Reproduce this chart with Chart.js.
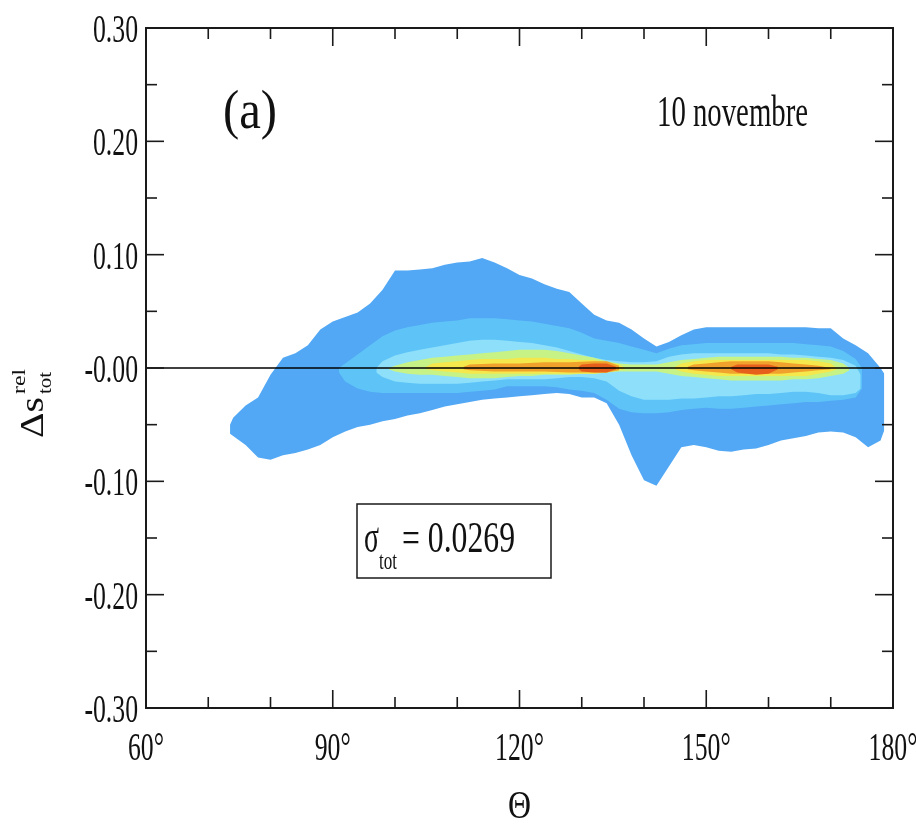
<!DOCTYPE html>
<html>
<head>
<meta charset="utf-8">
<script src="https://cdn.jsdelivr.net/npm/chart.js@4.4.1/dist/chart.umd.min.js"></script>
<style>
  html, body { margin: 0; padding: 0; background: #fff; }
  #wrap { width: 916px; height: 824px; }
</style>
</head>
<body>
<div id="wrap"><canvas id="chart" width="916" height="824"></canvas></div>
<script>
// ─── axes ───
const xMajorTicks = [60, 90, 120, 150, 180];
const xMinorTicks = [70, 80, 100, 110, 130, 140, 160, 170];
const xTickLabels = ["60°", "90°", "120°", "150°", "180°"];
const yMajorTicks = [0.30, 0.20, 0.10, 0.00, -0.10, -0.20, -0.30];
const yMinorTicks = [0.25, 0.15, 0.05, -0.05, -0.15, -0.25];
const yTickLabels = ["0.30", "0.20", "0.10", "-0.00", "-0.10", "-0.20", "-0.30"];

// ─── contour levels (upper / lower edge per theta) ───
// level 1 : outermost blue
const lvl1Theta = [73.5, 74, 76, 78, 80, 82, 84, 86, 88, 90, 92, 94, 96, 98, 100, 102, 104, 106, 108, 110, 112, 114, 116, 118, 120, 122, 124, 126, 128, 130, 132, 134, 136, 138, 140, 142, 144, 146, 148, 150, 152, 154, 156, 158, 160, 162, 164, 166, 168, 170, 172, 174, 176, 178, 178.6];
const lvl1Upper = [-0.050, -0.044, -0.033, -0.026, -0.006, 0.009, 0.013, 0.020, 0.034, 0.041, 0.045, 0.049, 0.057, 0.069, 0.086, 0.086, 0.087, 0.088, 0.091, 0.093, 0.094, 0.097, 0.093, 0.088, 0.082, 0.079, 0.074, 0.070, 0.067, 0.057, 0.047, 0.042, 0.040, 0.034, 0.026, 0.019, 0.023, 0.029, 0.034, 0.036, 0.036, 0.036, 0.036, 0.036, 0.036, 0.036, 0.036, 0.036, 0.035, 0.035, 0.026, 0.020, 0.013, 0.000, -0.005];
const lvl1Lower = [-0.058, -0.060, -0.068, -0.079, -0.081, -0.077, -0.075, -0.072, -0.068, -0.061, -0.056, -0.052, -0.050, -0.047, -0.045, -0.042, -0.040, -0.037, -0.034, -0.032, -0.030, -0.028, -0.027, -0.026, -0.025, -0.024, -0.023, -0.022, -0.023, -0.026, -0.026, -0.031, -0.050, -0.077, -0.099, -0.104, -0.087, -0.070, -0.068, -0.070, -0.073, -0.074, -0.072, -0.071, -0.068, -0.064, -0.062, -0.060, -0.057, -0.056, -0.057, -0.061, -0.070, -0.064, -0.055];

// level 2 : light blue
const lvl2Theta = [91, 92, 94, 96, 98, 100, 102, 104, 106, 108, 110, 112, 114, 116, 118, 120, 122, 124, 126, 128, 130, 132, 134, 136, 138, 140, 142, 144, 146, 148, 150, 152, 154, 156, 158, 160, 162, 164, 166, 168, 170, 172, 174, 175];
const lvl2Upper = [0.000, 0.004, 0.012, 0.020, 0.028, 0.033, 0.036, 0.038, 0.040, 0.041, 0.042, 0.044, 0.044, 0.044, 0.043, 0.042, 0.041, 0.039, 0.037, 0.035, 0.031, 0.026, 0.024, 0.022, 0.019, 0.016, 0.013, 0.017, 0.020, 0.021, 0.022, 0.022, 0.022, 0.022, 0.022, 0.022, 0.022, 0.022, 0.021, 0.020, 0.019, 0.015, 0.008, 0.000];
const lvl2Lower = [-0.004, -0.012, -0.018, -0.021, -0.022, -0.022, -0.022, -0.022, -0.022, -0.022, -0.022, -0.021, -0.020, -0.019, -0.016, -0.016, -0.016, -0.016, -0.017, -0.019, -0.020, -0.022, -0.028, -0.036, -0.039, -0.040, -0.040, -0.039, -0.037, -0.036, -0.035, -0.036, -0.036, -0.035, -0.034, -0.033, -0.032, -0.031, -0.030, -0.030, -0.029, -0.028, -0.026, -0.018];

// level 3 : pale cyan
const lvl3Theta = [97, 98, 100, 102, 104, 106, 108, 110, 112, 114, 116, 118, 120, 122, 124, 126, 128, 130, 132, 134, 136, 138, 140, 142, 144, 146, 148, 150, 152, 154, 156, 158, 160, 162, 164, 166, 168, 170, 172, 174, 174.8];
const lvl3Upper = [0.000, 0.006, 0.011, 0.014, 0.016, 0.018, 0.020, 0.022, 0.024, 0.025, 0.025, 0.024, 0.023, 0.022, 0.020, 0.018, 0.015, 0.012, 0.009, 0.007, 0.006, 0.005, 0.005, 0.006, 0.010, 0.012, 0.013, 0.013, 0.013, 0.013, 0.013, 0.013, 0.013, 0.012, 0.012, 0.011, 0.010, 0.009, 0.007, 0.002, -0.006];
const lvl3Lower = [-0.004, -0.008, -0.012, -0.013, -0.014, -0.014, -0.014, -0.014, -0.013, -0.012, -0.011, -0.010, -0.010, -0.010, -0.010, -0.009, -0.008, -0.008, -0.009, -0.012, -0.020, -0.025, -0.028, -0.028, -0.028, -0.027, -0.027, -0.026, -0.025, -0.025, -0.024, -0.023, -0.023, -0.022, -0.021, -0.021, -0.022, -0.024, -0.024, -0.022, -0.018];

// level 4 : yellow-green
const lvl4Theta = [99, 100, 102, 104, 106, 108, 110, 112, 114, 116, 118, 120, 122, 124, 126, 128, 130, 132, 134, 136, 138, 140, 142, 144, 146, 148, 150, 152, 154, 156, 158, 160, 162, 164, 166, 168, 170, 172, 173];
const lvl4Upper = [0.000, 0.002, 0.005, 0.007, 0.009, 0.010, 0.011, 0.012, 0.013, 0.014, 0.015, 0.016, 0.016, 0.016, 0.015, 0.013, 0.011, 0.009, 0.006, 0.004, 0.003, 0.003, 0.003, 0.005, 0.007, 0.008, 0.009, 0.010, 0.010, 0.010, 0.010, 0.010, 0.010, 0.009, 0.009, 0.008, 0.007, 0.004, 0.000];
const lvl4Lower = [-0.001, -0.003, -0.005, -0.006, -0.006, -0.007, -0.008, -0.009, -0.009, -0.009, -0.008, -0.007, -0.007, -0.006, -0.006, -0.006, -0.005, -0.005, -0.004, -0.003, -0.003, -0.003, -0.003, -0.005, -0.007, -0.008, -0.009, -0.010, -0.011, -0.011, -0.011, -0.011, -0.011, -0.010, -0.010, -0.009, -0.007, -0.005, -0.002];

// level 5 : yellow (two pieces)
const lvl5aTheta = [105, 106, 108, 110, 112, 114, 116, 118, 120, 122, 124, 126, 128, 130, 132, 134, 136, 137];
const lvl5aUpper = [0.001, 0.004, 0.005, 0.006, 0.007, 0.008, 0.008, 0.008, 0.009, 0.009, 0.009, 0.008, 0.008, 0.007, 0.007, 0.005, 0.003, 0.000];
const lvl5aLower = [-0.001, -0.002, -0.003, -0.004, -0.005, -0.005, -0.005, -0.005, -0.005, -0.005, -0.005, -0.005, -0.005, -0.005, -0.005, -0.004, -0.002, -0.001];
const lvl5bTheta = [145, 146, 148, 150, 152, 154, 156, 158, 160, 162, 164, 166, 168, 170, 171];
const lvl5bUpper = [0.001, 0.004, 0.006, 0.007, 0.007, 0.007, 0.007, 0.007, 0.007, 0.007, 0.007, 0.007, 0.006, 0.004, 0.000];
const lvl5bLower = [-0.001, -0.003, -0.005, -0.006, -0.007, -0.007, -0.007, -0.007, -0.007, -0.007, -0.007, -0.007, -0.005, -0.003, -0.001];

// level 6 : orange (two pieces)
const lvl6aTheta = [111, 112, 116, 120, 124, 128, 132, 134, 136];
const lvl6aUpper = [0.001, 0.003, 0.004, 0.004, 0.005, 0.005, 0.006, 0.006, 0.002];
const lvl6aLower = [-0.001, -0.002, -0.003, -0.003, -0.003, -0.004, -0.004, -0.004, -0.002];
const lvl6bTheta = [147, 148, 150, 152, 154, 156, 158, 160, 162, 164, 166, 168, 170];
const lvl6bUpper = [0.001, 0.003, 0.004, 0.005, 0.006, 0.006, 0.006, 0.006, 0.005, 0.004, 0.003, 0.002, 0.000];
const lvl6bLower = [-0.001, -0.002, -0.003, -0.004, -0.005, -0.005, -0.005, -0.005, -0.005, -0.004, -0.003, -0.002, -0.001];

// level 7 : red core (two pieces)
const lvl7aTheta = [129.5, 130, 132, 134, 135.5];
const lvl7aUpper = [0.001, 0.003, 0.004, 0.004, 0.001];
const lvl7aLower = [-0.001, -0.003, -0.004, -0.004, -0.001];
const lvl7bTheta = [154, 155, 158, 160, 161.5];
const lvl7bUpper = [0.001, 0.003, 0.003, 0.003, 0.001];
const lvl7bLower = [-0.001, -0.004, -0.006, -0.005, -0.001];

// zero reference line
const zeroTheta = [60, 180];
const zeroValues = [0, 0];

const levelColors = ["#52a8f4", "#5ec4f8", "#8ee0fa", "#c6f286", "#f4e84c", "#f0a22c", "#e6601c"];

// innermost first so that the outer levels are drawn underneath
const levels = [
  [lvl7bTheta, lvl7bUpper, lvl7bLower, 6],
  [lvl7aTheta, lvl7aUpper, lvl7aLower, 6],
  [lvl6bTheta, lvl6bUpper, lvl6bLower, 5],
  [lvl6aTheta, lvl6aUpper, lvl6aLower, 5],
  [lvl5bTheta, lvl5bUpper, lvl5bLower, 4],
  [lvl5aTheta, lvl5aUpper, lvl5aLower, 4],
  [lvl4Theta, lvl4Upper, lvl4Lower, 3],
  [lvl3Theta, lvl3Upper, lvl3Lower, 2],
  [lvl2Theta, lvl2Upper, lvl2Lower, 1],
  [lvl1Theta, lvl1Upper, lvl1Lower, 0]
];

function pts(xs, ys) {
  return xs.map((x, i) => ({ x: x, y: ys[i] }));
}

const datasets = [{
  data: pts(zeroTheta, zeroValues),
  borderColor: "#000",
  borderWidth: 1.4,
  pointRadius: 0,
  fill: false
}];

levels.forEach(([th, up, lo, c]) => {
  datasets.push({
    data: pts(th, up),
    borderColor: "transparent",
    borderWidth: 0,
    pointRadius: 0,
    backgroundColor: levelColors[c],
    fill: "+1"
  });
  datasets.push({
    data: pts(th, lo),
    borderColor: "transparent",
    borderWidth: 0,
    pointRadius: 0,
    fill: false
  });
});

// condensed serif text (the original font is a narrow Times)
const SERIF = '"Liberation Serif", "DejaVu Serif", serif';
function condText(ctx, txt, x, y, size, sx, align) {
  ctx.font = size + "px " + SERIF;
  ctx.save();
  ctx.translate(x, y);
  ctx.scale(sx, 1);
  ctx.textAlign = align || "left";
  ctx.textBaseline = "alphabetic";
  ctx.fillText(txt, 0, 0);
  ctx.restore();
}
function fitScale(ctx, txt, size, width) {
  ctx.font = size + "px " + SERIF;
  return width / ctx.measureText(txt).width;
}

const framePlugin = {
  id: "frame",
  afterDraw(chart) {
    const ctx = chart.ctx;
    const a = chart.chartArea;
    const xs = chart.scales.x, ys = chart.scales.y;
    ctx.save();
    ctx.strokeStyle = "#1a1a1a";
    ctx.fillStyle = "#111";
    ctx.lineWidth = 2;
    ctx.strokeRect(a.left, a.top, a.right - a.left, a.bottom - a.top);

    // inward ticks on all four sides
    ctx.lineWidth = 1.6;
    const tick = (x1, y1, x2, y2) => { ctx.beginPath(); ctx.moveTo(x1, y1); ctx.lineTo(x2, y2); ctx.stroke(); };
    xMajorTicks.forEach(v => { const p = xs.getPixelForValue(v); tick(p, a.bottom, p, a.bottom - 18); tick(p, a.top, p, a.top + 18); });
    xMinorTicks.forEach(v => { const p = xs.getPixelForValue(v); tick(p, a.bottom, p, a.bottom - 11); tick(p, a.top, p, a.top + 11); });
    yMajorTicks.forEach(v => { const p = ys.getPixelForValue(v); tick(a.left, p, a.left + 18, p); tick(a.right, p, a.right - 18, p); });
    yMinorTicks.forEach(v => { const p = ys.getPixelForValue(v); tick(a.left, p, a.left + 11, p); tick(a.right, p, a.right - 11, p); });

    // tick labels
    const sxTick = fitScale(ctx, "0.30", 40, 45);
    yMajorTicks.forEach((v, i) => {
      condText(ctx, yTickLabels[i], a.left - 8, ys.getPixelForValue(v) + 14, 40, sxTick, "right");
    });
    xMajorTicks.forEach((v, i) => {
      condText(ctx, xTickLabels[i], xs.getPixelForValue(v), a.bottom + 52, 40, sxTick, "center");
    });

    // axis titles
    condText(ctx, "Θ", (a.left + a.right) / 2, 818, 40, fitScale(ctx, "Θ", 40, 23), "center");
    ctx.save();
    ctx.translate(43, 438);
    ctx.rotate(-Math.PI / 2);
    condText(ctx, "Δs", 0, 0, 34, fitScale(ctx, "Δs", 34, 41));
    condText(ctx, "rel", 44, -18, 19, fitScale(ctx, "rel", 19, 25));
    condText(ctx, "tot", 44, 8, 19, fitScale(ctx, "tot", 19, 22));
    ctx.restore();

    // annotations
    condText(ctx, "(a)", 223, 128, 54, fitScale(ctx, "(a)", 54, 54));
    condText(ctx, "10 novembre", 657, 126, 44, fitScale(ctx, "10 novembre", 44, 151));

    ctx.lineWidth = 1.5;
    ctx.fillStyle = "#fff";
    ctx.fillRect(357, 504, 194, 74);
    ctx.strokeRect(357, 504, 194, 74);
    ctx.fillStyle = "#111";
    condText(ctx, "σ", 364, 552, 46, fitScale(ctx, "σ", 46, 15));
    condText(ctx, "tot", 379, 569, 26, fitScale(ctx, "tot", 26, 18));
    condText(ctx, "= 0.0269", 402, 552, 44, fitScale(ctx, "= 0.0269", 44, 113));
    ctx.restore();
  }
};

new Chart(document.getElementById("chart"), {
  type: "line",
  data: { datasets: datasets },
  options: {
    responsive: false,
    animation: false,
    events: [],
    layout: { padding: { left: 146, top: 28, right: 23, bottom: 116 } },
    elements: { line: { tension: 0 } },
    scales: {
      x: { type: "linear", min: 60, max: 180, display: false },
      y: { type: "linear", min: -0.3, max: 0.3, display: false }
    },
    plugins: { legend: { display: false }, tooltip: { enabled: false } }
  },
  plugins: [framePlugin]
});
</script>
</body>
</html>
